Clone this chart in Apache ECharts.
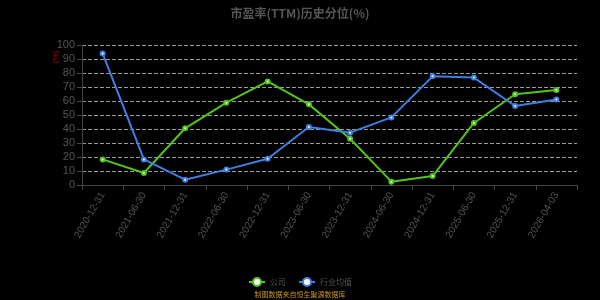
<!DOCTYPE html>
<html><head><meta charset="utf-8">
<script src="https://cdn.jsdelivr.net/npm/echarts@6/dist/echarts.min.js"></script>
<style>html,body{margin:0;padding:0;background:#000;}#c{width:600px;height:300px;}</style>
</head><body><div id="c"></div>
<script>
const categories = ['2020-12-31','2021-06-30','2021-12-31','2022-06-30','2022-12-31','2023-06-30','2023-12-31','2024-06-30','2024-12-31','2025-06-30','2025-12-31','2026-04-03'];
const companyValues = [18.3, 8.6, 40.5, 58.8, 74.0, 57.6, 33.0, 2.4, 6.4, 44.3, 64.8, 67.9];
const industryValues = [94.0, 18.3, 3.8, 11.0, 18.8, 41.4, 37.4, 48.3, 77.6, 76.7, 56.4, 61.0];
const yTicks = {min: 0, max: 100, interval: 10};
const seriesNames = ['公司', '行业均值'];

const chart = echarts.init(document.getElementById('c'));
chart.setOption({
  backgroundColor: '#000',
  animation: false,
  title: {text: '市盈率(TTM)历史分位(%)', left: 'center', top: 2,
    textStyle: {color: '#555', fontSize: 12, fontWeight: 'bold', fontFamily: 'Noto Sans CJK SC'}},
  graphic: [
    {type: 'text', left: 'center', top: 291,
      style: {text: '制图数据来自恒生聚源数据库', fill: '#c8961e', fontSize: 7, fontFamily: 'Noto Sans CJK SC'}},
    {type: 'text', x: 56, y: 57, rotation: Math.PI / 2,
      style: {text: '(%)', fill: '#b00', fontSize: 8, align: 'center', verticalAlign: 'middle'}}
  ],
  legend: {top: 272, left: 'center', itemWidth: 16, itemHeight: 10, itemGap: 12,
    textStyle: {color: '#555', fontSize: 8, fontFamily: 'Noto Sans CJK SC'},
    data: seriesNames},
  grid: {left: 82, right: 23, top: 45, bottom: 115},
  xAxis: {type: 'category', data: categories, boundaryGap: true,
    axisLine: {lineStyle: {color: '#444'}},
    axisTick: {show: true, lineStyle: {color: '#444'}},
    axisLabel: {color: '#555', rotate: 60, fontSize: 10, margin: 8, interval: 0}},
  yAxis: {type: 'value', min: yTicks.min, max: yTicks.max, interval: yTicks.interval,
    axisLine: {show: true, lineStyle: {color: '#444'}},
    axisTick: {show: true, lineStyle: {color: '#444'}},
    axisLabel: {color: '#555', fontSize: 11, margin: 7},
    splitLine: {lineStyle: {color: '#999', type: 'dashed'}}},
  series: [
    {name: seriesNames[0], type: 'line', data: companyValues, symbol: 'emptyCircle', symbolSize: 4,
      itemStyle: {color: '#52c41a'}, lineStyle: {color: '#52c41a', width: 2}},
    {name: seriesNames[1], type: 'line', data: industryValues, symbol: 'emptyCircle', symbolSize: 4,
      itemStyle: {color: '#3f7fe0'}, lineStyle: {color: '#3f7fe0', width: 2}}
  ]
});
</script></body></html>
